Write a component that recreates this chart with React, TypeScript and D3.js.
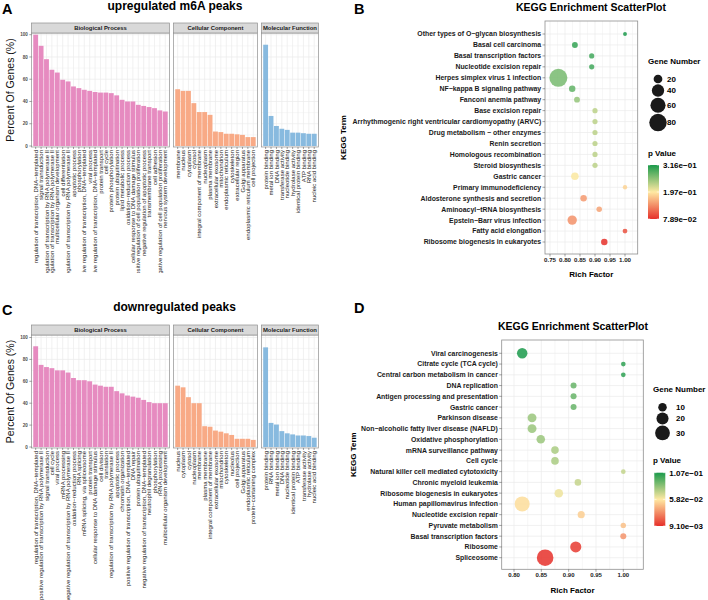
import React, { useEffect, useRef } from "react";
import * as d3 from "d3";

// ---------- GO terms, upregulated m6A peaks (percent of genes) ----------
const upBpTerms = [
  "regulation of transcription, DNA−templated",
  "signal transduction",
  "positive regulation of transcription by RNA polymerase II",
  "negative regulation of transcription by RNA polymerase II",
  "multicellular organism development",
  "cell differentiation",
  "regulation of transcription by RNA polymerase II",
  "apoptotic process",
  "phosphorylation",
  "positive regulation of transcription, DNA−templated",
  "viral process",
  "negative regulation of transcription, DNA−templated",
  "protein transport",
  "cell cycle",
  "protein phosphorylation",
  "protein ubiquitination",
  "lipid metabolic process",
  "oxidation−reduction process",
  "cellular response to DNA damage stimulus",
  "positive regulation of cell population proliferation",
  "negative regulation of apoptotic process",
  "transmembrane transport",
  "cell adhesion",
  "negative regulation of cell population proliferation",
  "nervous system development",
];
const upBpPct = [100, 90, 78, 68.5, 66, 59.5, 58, 53.5, 52, 50.5, 49.5, 48.5, 48, 48, 47.5, 45.5, 41.5, 40, 40, 37, 36, 35, 34, 32, 31];

const upCcTerms = [
  "membrane", "nucleus", "cytoplasm", "cytosol", "integral component of membrane",
  "nucleoplasm", "plasma membrane", "extracellular exosome", "mitochondrion",
  "endoplasmic reticulum", "cytoskeleton", "extracellular region", "Golgi apparatus",
  "endoplasmic reticulum membrane", "cell projection",
];
const upCcPct = [51, 49.5, 49.5, 38.5, 30.5, 30.5, 28, 13, 12.5, 11, 11, 10.5, 10, 8, 8];

const upMfTerms = [
  "protein binding", "metal ion binding", "DNA binding", "transferase activity",
  "nucleotide binding", "hydrolase activity", "identical protein binding",
  "ATP binding", "RNA binding", "nucleic acid binding",
];
const upMfPct = [91, 27, 18, 15.5, 14.5, 12, 12, 11.5, 11, 11];

// ---------- GO terms, downregulated peaks ----------
const downBpTerms = [
  "regulation of transcription, DNA−templated",
  "positive regulation of transcription by RNA polymerase II",
  "signal transduction",
  "cell cycle",
  "viral process",
  "mRNA processing",
  "negative regulation of transcription by RNA polymerase II",
  "oxidation−reduction process",
  "RNA splicing",
  "mRNA splicing, via spliceosome",
  "protein transport",
  "cellular response to DNA damage stimulus",
  "cell division",
  "translation",
  "regulation of transcription by RNA polymerase II",
  "apoptotic process",
  "chromatin organization",
  "positive regulation of transcription, DNA−templated",
  "DNA repair",
  "protein ubiquitination",
  "negative regulation of transcription, DNA−templated",
  "neutrophil degranulation",
  "phosphorylation",
  "rRNA processing",
  "multicellular organism development",
];
const downBpPct = [92, 75, 73, 72, 70, 70, 68, 63, 61, 61, 60, 57, 56, 55, 55, 51, 49, 47, 46, 45, 43, 41, 40, 40, 40];

const downCcTerms = [
  "nucleus", "cytoplasm", "cytosol", "nucleoplasm", "membrane", "plasma membrane",
  "integral component of membrane", "extracellular exosome", "mitochondrion",
  "cytoskeleton", "nucleolus", "cell projection", "Golgi apparatus",
  "endoplasmic reticulum", "protein−containing complex",
];
const downCcPct = [56, 54.5, 45.5, 40, 40, 19, 18.5, 15, 14, 12.5, 11, 7.5, 7.5, 7.5, 6.5];

const downMfTerms = [
  "protein binding", "RNA binding", "metal ion binding", "DNA binding",
  "nucleotide binding", "identical protein binding", "ATP binding",
  "transferase activity", "hydrolase activity", "nucleic acid binding",
];
const downMfPct = [91, 22, 20.5, 14.5, 12.5, 11.5, 10.5, 10.5, 10, 8.5];

// ---------- KEGG, upregulated ----------
const keggUpTerms = [
  "Other types of O−glycan biosynthesis",
  "Basal cell carcinoma",
  "Basal transcription factors",
  "Nucleotide excision repair",
  "Herpes simplex virus 1 infection",
  "NF−kappa B signaling pathway",
  "Fanconi anemia pathway",
  "Base excision repair",
  "Arrhythmogenic right ventricular cardiomyopathy (ARVC)",
  "Drug metabolism − other enzymes",
  "Renin secretion",
  "Homologous recombination",
  "Steroid biosynthesis",
  "Gastric cancer",
  "Primary immunodeficiency",
  "Aldosterone synthesis and secretion",
  "Aminoacyl−tRNA biosynthesis",
  "Epstein−Barr virus infection",
  "Fatty acid elongation",
  "Ribosome biogenesis in eukaryotes",
];
const keggUpRich = [1.0, 0.833, 0.889, 0.889, 0.778, 0.824, 0.84, 0.9, 0.9, 0.9, 0.9, 0.9, 0.9, 0.833, 1.0, 0.862, 0.914, 0.824, 1.0, 0.931];
const keggUpCount = [4, 9, 7, 7, 85, 11, 9, 7, 7, 7, 7, 7, 7, 15, 5, 11, 8, 23, 6, 11];
const keggUpP = [0.316, 0.303, 0.296, 0.296, 0.268, 0.279, 0.253, 0.233, 0.233, 0.233, 0.233, 0.233, 0.233, 0.2, 0.183, 0.146, 0.152, 0.142, 0.1, 0.0789];
const keggUpSizeBreaks = [20, 40, 60, 80];
const keggUpXTicks = [0.75, 0.8, 0.85, 0.9, 0.95, 1.0];

// ---------- KEGG, downregulated ----------
const keggDownTerms = [
  "Viral carcinogenesis",
  "Citrate cycle (TCA cycle)",
  "Central carbon metabolism in cancer",
  "DNA replication",
  "Antigen processing and presentation",
  "Gastric cancer",
  "Parkinson disease",
  "Non−alcoholic fatty liver disease (NAFLD)",
  "Oxidative phosphorylation",
  "mRNA surveillance pathway",
  "Cell cycle",
  "Natural killer cell mediated cytotoxicity",
  "Chronic myeloid leukemia",
  "Ribosome biogenesis in eukaryotes",
  "Human papillomavirus infection",
  "Nucleotide excision repair",
  "Pyruvate metabolism",
  "Basal transcription factors",
  "Ribosome",
  "Spliceosome",
];
const keggDownRich = [0.815, 1.0, 1.0, 0.909, 0.909, 0.909, 0.833, 0.833, 0.849, 0.875, 0.875, 1.0, 0.917, 0.882, 0.815, 0.923, 1.0, 1.0, 0.913, 0.857];
const keggDownCount = [15, 3, 3, 5, 5, 5, 11, 11, 10, 8, 8, 3, 6, 10, 31, 7, 4, 5, 17, 38];
const keggDownP = [0.1073, 0.103, 0.103, 0.091, 0.091, 0.091, 0.08, 0.08, 0.08, 0.0768, 0.0768, 0.0713, 0.071, 0.062, 0.055, 0.051, 0.047, 0.0355, 0.012, 0.0091];
const keggDownSizeBreaks = [10, 20, 30];
const keggDownXTicks = [0.8, 0.85, 0.9, 0.95, 1.0];

const FONT = "'Liberation Sans', Arial, Helvetica, sans-serif";
const GRID = "#EBEBEB";
const BORDER = "#8F8F8F";
const BP_COL = "#E68BC0";
const CC_COL = "#F8AA86";
const MF_COL = "#88BADF";

// R-style scientific label, e.g. 3.16e−01
function sci(v: number) {
  const [m, e] = v.toExponential(2).split("e");
  const n = parseInt(e, 10);
  return `${m}e${n < 0 ? "−" : "+"}${String(Math.abs(n)).padStart(2, "0")}`;
}

function drawGo(svg: any, o: any) {
  const { facets, stripTop, panelTop, panelBottom, y0, y100, clipBottom, id } = o;
  const y = d3.scaleLinear().domain([0, 100]).range([y0, y100]);
  const unit = 5.4, gap = 4;
  let x0 = 31.5;

  svg.append("clipPath").attr("id", id).append("rect")
    .attr("x", 0).attr("y", panelBottom).attr("width", 345).attr("height", clipBottom - panelBottom);

  facets.forEach((f: any, i: number) => {
    const w = unit * (f.terms.length + 0.55);
    const x = d3.scaleBand<string>().domain(f.terms).range([x0, x0 + w])
      .paddingInner(0.1).paddingOuter(0.325);
    const g = svg.append("g");

    g.append("rect").attr("x", x0).attr("y", panelTop).attr("width", w)
      .attr("height", panelBottom - panelTop).attr("fill", "#fff");

    g.selectAll("line.hmin").data(d3.range(10, 100, 20)).join("line")
      .attr("x1", x0).attr("x2", x0 + w).attr("y1", (d: number) => y(d)).attr("y2", (d: number) => y(d))
      .attr("stroke", GRID).attr("stroke-width", 0.4);
    g.selectAll("line.hmaj").data(y.ticks(5)).join("line")
      .attr("x1", x0).attr("x2", x0 + w).attr("y1", (d: number) => y(d)).attr("y2", (d: number) => y(d))
      .attr("stroke", GRID).attr("stroke-width", 0.7);
    g.selectAll("line.v").data(f.terms).join("line")
      .attr("x1", (d: string) => x(d)! + x.bandwidth() / 2).attr("x2", (d: string) => x(d)! + x.bandwidth() / 2)
      .attr("y1", panelTop).attr("y2", panelBottom)
      .attr("stroke", GRID).attr("stroke-width", 0.7);

    g.selectAll("rect.bar").data(f.values).join("rect")
      .attr("x", (_: number, j: number) => x(f.terms[j])!)
      .attr("y", (d: number) => y(d))
      .attr("width", x.bandwidth())
      .attr("height", (d: number) => y(0) - y(d))
      .attr("fill", f.color);

    g.append("rect").attr("x", x0).attr("y", panelTop).attr("width", w)
      .attr("height", panelBottom - panelTop).attr("fill", "none")
      .attr("stroke", BORDER).attr("stroke-width", 0.7);

    // facet strip
    g.append("rect").attr("x", x0).attr("y", stripTop).attr("width", w)
      .attr("height", panelTop - stripTop).attr("fill", "#D9D9D9")
      .attr("stroke", BORDER).attr("stroke-width", 0.7);
    g.append("text").attr("x", x0 + w / 2).attr("y", stripTop + 7.3)
      .attr("text-anchor", "middle").attr("font-size", 5.9).attr("font-weight", "bold")
      .attr("fill", "#1A1A1A").text(f.name);

    // x ticks + rotated labels
    g.selectAll("line.xt").data(f.terms).join("line")
      .attr("x1", (d: string) => x(d)! + x.bandwidth() / 2).attr("x2", (d: string) => x(d)! + x.bandwidth() / 2)
      .attr("y1", panelBottom).attr("y2", panelBottom + 2)
      .attr("stroke", "#444").attr("stroke-width", 0.5);
    svg.append("g").attr("clip-path", `url(#${id})`)
      .selectAll("text").data(f.terms).join("text")
      .attr("transform", (d: string) => `translate(${x(d)! + x.bandwidth() / 2},${panelBottom + 3}) rotate(-90)`)
      .attr("text-anchor", "end").attr("dy", "0.35em")
      .attr("font-size", 6).attr("fill", "#222").text((d: string) => d);

    if (i === 0) {
      g.selectAll("line.yt").data(y.ticks(5)).join("line")
        .attr("x1", x0 - 2.2).attr("x2", x0).attr("y1", (d: number) => y(d)).attr("y2", (d: number) => y(d))
        .attr("stroke", "#444").attr("stroke-width", 0.5);
      g.selectAll("text.yl").data(y.ticks(5)).join("text")
        .attr("x", x0 - 3.6).attr("y", (d: number) => y(d)).attr("dy", "0.35em")
        .attr("text-anchor", "end").attr("font-size", 4.6).attr("font-weight", "bold")
        .attr("fill", "#4D4D4D").text((d: number) => d);
    }
    x0 += w + gap;
  });

  svg.append("text")
    .attr("transform", `translate(14,${(panelTop + panelBottom) / 2}) rotate(-90)`)
    .attr("text-anchor", "middle").attr("font-size", 10.5).attr("fill", "#111")
    .text("Percent Of Genes (%)");

  svg.append("text").attr("x", 2).attr("y", o.letterY).attr("font-size", 14.5)
    .attr("font-weight", "bold").text(o.letter);
  svg.append("text").attr("x", o.titleX).attr("y", o.titleY).attr("text-anchor", "middle")
    .attr("font-size", 12).attr("font-weight", "bold").text(o.title);
}

function drawKegg(svg: any, o: any) {
  const { terms, rich, count, p, left, right, top, bottom } = o;
  const x = d3.scaleLinear().domain([o.ticks[0], o.ticks[o.ticks.length - 1]]).range([o.xa, o.xb]);
  const y = d3.scalePoint<string>().domain(terms).range([o.rowTop, o.rowBottom]);
  const r = d3.scaleSqrt().domain([0, d3.max(count as number[])!]).range([0, o.rMax]);
  const [pmin, pmax] = d3.extent(p as number[]) as [number, number];
  const pmid = (pmin + pmax) / 2;
  const color = d3.scaleLinear<string>().domain([pmin, pmid, pmax])
    .range(["#E6302A", "#FFE9A2", "#1B9A4B"]).interpolate(d3.interpolateRgb);

  const g = svg.append("g");
  g.append("rect").attr("x", left).attr("y", top).attr("width", right - left)
    .attr("height", bottom - top).attr("fill", "#fff");

  const lo = x.invert(left), hi = x.invert(right);
  const minor = d3.range(o.ticks[0] - 0.025, hi, 0.05).filter((v: number) => v > lo);
  g.selectAll("line.vmin").data(minor).join("line")
    .attr("x1", (d: number) => x(d)).attr("x2", (d: number) => x(d)).attr("y1", top).attr("y2", bottom)
    .attr("stroke", GRID).attr("stroke-width", 0.4);
  g.selectAll("line.vmaj").data(o.ticks).join("line")
    .attr("x1", (d: number) => x(d)).attr("x2", (d: number) => x(d)).attr("y1", top).attr("y2", bottom)
    .attr("stroke", GRID).attr("stroke-width", 0.7);
  g.selectAll("line.h").data(terms).join("line")
    .attr("x1", left).attr("x2", right).attr("y1", (d: string) => y(d)!).attr("y2", (d: string) => y(d)!)
    .attr("stroke", GRID).attr("stroke-width", 0.7);

  g.selectAll("circle.pt").data(terms).join("circle")
    .attr("cx", (_: string, i: number) => x(rich[i]))
    .attr("cy", (d: string) => y(d)!)
    .attr("r", (_: string, i: number) => r(count[i]))
    .attr("fill", (_: string, i: number) => color(p[i]))
    .attr("fill-opacity", 0.85);

  g.append("rect").attr("x", left).attr("y", top).attr("width", right - left)
    .attr("height", bottom - top).attr("fill", "none").attr("stroke", BORDER).attr("stroke-width", 0.8);

  // y axis
  g.selectAll("line.yt").data(terms).join("line")
    .attr("x1", left - 2.5).attr("x2", left).attr("y1", (d: string) => y(d)!).attr("y2", (d: string) => y(d)!)
    .attr("stroke", "#444").attr("stroke-width", 0.5);
  g.selectAll("text.yl").data(terms).join("text")
    .attr("x", left - 3.8).attr("y", (d: string) => y(d)!).attr("dy", "0.35em")
    .attr("text-anchor", "end").attr("font-size", 6.9).attr("font-weight", "bold")
    .attr("fill", "#1A1A1A").text((d: string) => d);

  // x axis
  g.selectAll("line.xt").data(o.ticks).join("line")
    .attr("x1", (d: number) => x(d)).attr("x2", (d: number) => x(d)).attr("y1", bottom).attr("y2", bottom + 2.5)
    .attr("stroke", "#444").attr("stroke-width", 0.5);
  g.selectAll("text.xl").data(o.ticks).join("text")
    .attr("x", (d: number) => x(d)).attr("y", bottom + 7.9).attr("text-anchor", "middle")
    .attr("font-size", o.tickFont).attr("font-weight", "bold").attr("fill", "#1A1A1A")
    .text((d: number) => d.toFixed(2));

  g.append("text").attr("x", (left + right) / 2).attr("y", bottom + 23.2).attr("text-anchor", "middle")
    .attr("font-size", 8).attr("font-weight", "bold").text("Rich Factor");
  g.append("text").attr("transform", `translate(${o.yTitleX},${(top + bottom) / 2}) rotate(-90)`)
    .attr("text-anchor", "middle").attr("font-size", 8).attr("font-weight", "bold").text("KEGG Term");
  g.append("text").attr("x", o.titleX).attr("y", o.titleY).attr("text-anchor", "middle")
    .attr("font-size", 10.5).attr("font-weight", "bold").text("KEGG Enrichment ScatterPlot");
  g.append("text").attr("x", 354).attr("y", o.letterY).attr("font-size", 14.5)
    .attr("font-weight", "bold").text(o.letter);

  // size legend
  const L = o.legend;
  g.append("text").attr("x", L.x).attr("y", L.sizeTitleY).attr("font-size", 8)
    .attr("font-weight", "bold").text("Gene Number");
  let cy = L.firstKeyY, prevH = 0;
  o.sizeBreaks.forEach((b: number, i: number) => {
    const rr = r(b);
    const h = Math.max(9, 2 * rr + 1);
    if (i > 0) cy += (prevH + h) / 2;
    prevH = h;
    g.append("circle").attr("cx", L.keyX).attr("cy", cy).attr("r", rr).attr("fill", "#1A1A1A");
    g.append("text").attr("x", L.labelX).attr("y", cy).attr("dy", "0.35em").attr("font-size", 8)
      .attr("font-weight", "bold").text(b);
  });

  // colour legend
  g.append("text").attr("x", L.x).attr("y", L.pTitleY).attr("font-size", 8)
    .attr("font-weight", "bold").text("p Value");
  const gid = `grad-${o.letter}`;
  const grad = svg.append("defs").append("linearGradient").attr("id", gid)
    .attr("x1", 0).attr("y1", 1).attr("x2", 0).attr("y2", 0);
  d3.range(0, 1.0001, 0.1).forEach((t: number) => {
    grad.append("stop").attr("offset", t).attr("stop-color", color(pmin + t * (pmax - pmin)));
  });
  const cb = d3.scaleLinear().domain([pmin, pmax]).range([L.barBottom, L.barTop]);
  g.append("rect").attr("x", L.barX).attr("y", L.barTop).attr("width", 11)
    .attr("height", L.barBottom - L.barTop).attr("fill", `url(#${gid})`);
  [pmax, pmid, pmin].forEach((v) => {
    g.append("line").attr("x1", L.barX).attr("x2", L.barX + 2.2).attr("y1", cb(v)).attr("y2", cb(v))
      .attr("stroke", "#fff").attr("stroke-width", 0.6);
    g.append("line").attr("x1", L.barX + 8.8).attr("x2", L.barX + 11).attr("y1", cb(v)).attr("y2", cb(v))
      .attr("stroke", "#fff").attr("stroke-width", 0.6);
    g.append("text").attr("x", L.barX + 15).attr("y", cb(v)).attr("dy", "0.35em")
      .attr("font-size", 8).attr("font-weight", "bold").text(sci(v));
  });
}

export default function App() {
  const ref = useRef<SVGSVGElement>(null);

  useEffect(() => {
    const svg = d3.select(ref.current);
    svg.selectAll("*").remove();
    svg.append("rect").attr("width", 708).attr("height", 600).attr("fill", "#fff");

    drawGo(svg, {
      id: "clipA", letter: "A", letterY: 14, title: "upregulated m6A peaks", titleX: 175, titleY: 10,
      stripTop: 23, panelTop: 33, panelBottom: 147, y0: 146, y100: 34.7, clipBottom: 273,
      facets: [
        { name: "Biological Process", terms: upBpTerms, values: upBpPct, color: BP_COL },
        { name: "Cellular Component", terms: upCcTerms, values: upCcPct, color: CC_COL },
        { name: "Molecular Function", terms: upMfTerms, values: upMfPct, color: MF_COL },
      ],
    });
    drawGo(svg, {
      id: "clipC", letter: "C", letterY: 315, title: "downregulated peaks", titleX: 174.5, titleY: 311,
      stripTop: 325, panelTop: 335, panelBottom: 448, y0: 447, y100: 337.5, clipBottom: 600,
      facets: [
        { name: "Biological Process", terms: downBpTerms, values: downBpPct, color: BP_COL },
        { name: "Cellular Component", terms: downCcTerms, values: downCcPct, color: CC_COL },
        { name: "Molecular Function", terms: downMfTerms, values: downMfPct, color: MF_COL },
      ],
    });

    drawKegg(svg, {
      letter: "B", letterY: 14, titleX: 591, titleY: 10.5,
      terms: keggUpTerms, rich: keggUpRich, count: keggUpCount, p: keggUpP,
      ticks: keggUpXTicks, xa: 550, xb: 625, tickFont: 6.2,
      left: 545, right: 637.7, top: 21, bottom: 254, rowTop: 34, rowBottom: 242,
      rMax: 9, sizeBreaks: keggUpSizeBreaks, yTitleX: 346,
      legend: { x: 648, sizeTitleY: 64, firstKeyY: 79, keyX: 658, labelX: 667,
        pTitleY: 156, barX: 648, barTop: 165, barBottom: 219 },
    });
    drawKegg(svg, {
      letter: "D", letterY: 313, titleX: 573, titleY: 329.5,
      terms: keggDownTerms, rich: keggDownRich, count: keggDownCount, p: keggDownP,
      ticks: keggDownXTicks, xa: 514, xb: 623.3, tickFont: 6,
      left: 501.7, right: 643.3, top: 340, bottom: 569.3, rowTop: 353.3, rowBottom: 557.7,
      rMax: 8.3, sizeBreaks: keggDownSizeBreaks, yTitleX: 356,
      legend: { x: 653, sizeTitleY: 392, firstKeyY: 407.3, keyX: 662.5, labelX: 676,
        pTitleY: 463, barX: 654.3, barTop: 472.7, barBottom: 526 },
    });
  }, []);

  return (
    <svg
      ref={ref}
      width={708}
      height={600}
      style={{ position: "absolute", left: 0, top: 0, fontFamily: FONT }}
    />
  );
}
